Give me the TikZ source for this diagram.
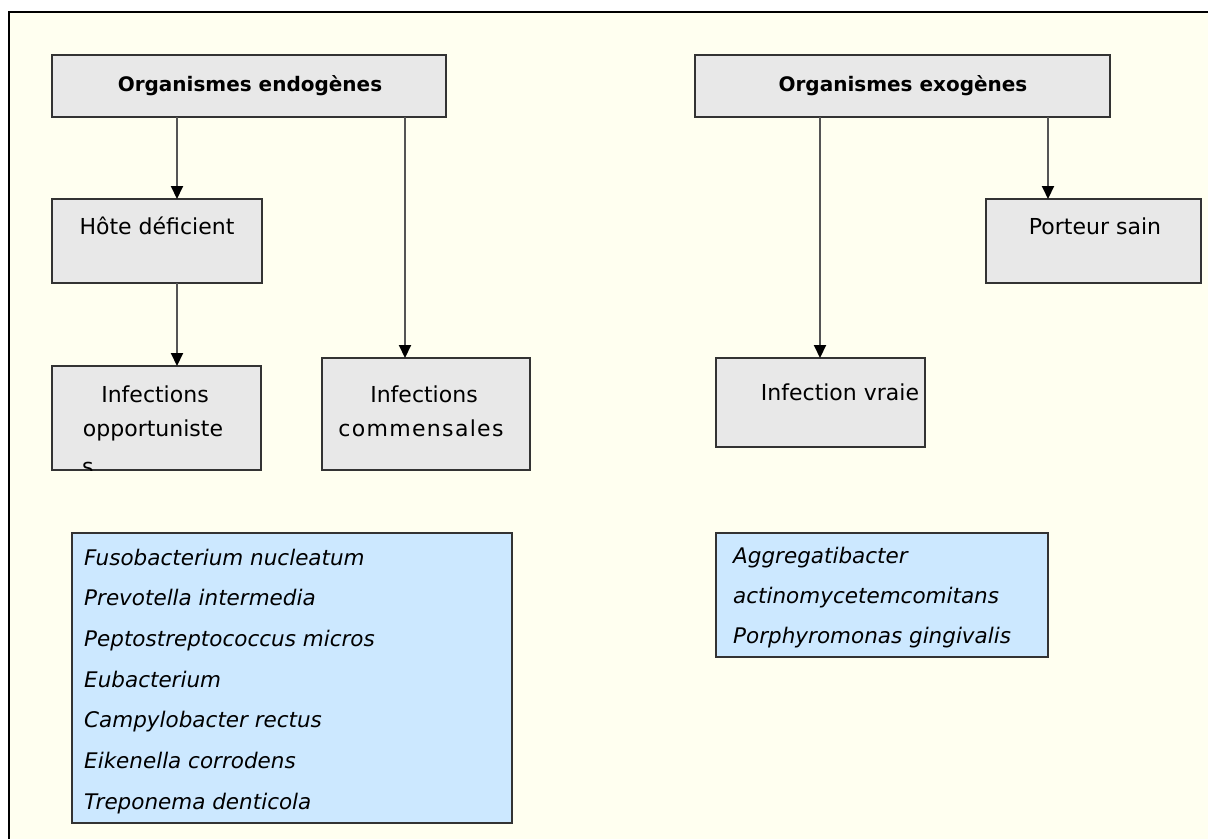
\documentclass[tikz,border=0pt]{standalone}
\usepackage{fontspec}
\setmainfont{DejaVu Sans}
\usetikzlibrary{arrows.meta}
\definecolor{paper}{HTML}{FFFFF0}
\definecolor{boxgray}{HTML}{E8E8E8}
\definecolor{boxblue}{HTML}{CCE8FF}
\definecolor{edge}{HTML}{333333}
\definecolor{wire}{HTML}{555555}

\begin{document}
\begin{tikzpicture}[x=1pt,y=-1pt,
  box/.style={draw=edge, line width=1.8pt, fill=boxgray, inner sep=0pt, outer sep=0pt, anchor=north west},
  listbox/.style={box, fill=boxblue},
  head/.style={font=\bfseries\fontsize{20}{24}\selectfont, anchor=base, inner sep=0pt},
  boxtext/.style={font=\fontsize{22}{26}\selectfont, anchor=base, inner sep=0pt},
  species/.style={font=\itshape\fontsize{21.5}{26}\selectfont, anchor=base west, inner sep=0pt},
  link/.style={draw=wire, line width=2pt, -{Triangle[length=13pt,width=12pt,color=black]}}]

\useasboundingbox (0,0) rectangle (1208,839);

% page frame
\fill[paper] (9,12) rectangle (1208,839);
\draw[black, line width=1.8pt] (9,839) -- (9,12) -- (1208,12);

% boxes
\node[box, minimum width=394pt, minimum height=62pt] (endo) at (52,55) {};
\node[box, minimum width=415pt, minimum height=62pt] (exo) at (695,55) {};
\node[box, minimum width=210pt, minimum height=84pt] (hote) at (52,199) {};
\node[box, minimum width=215pt, minimum height=84pt] (porteur) at (986,199) {};
\node[box, minimum width=209pt, minimum height=104pt] (opp) at (52,366) {};
\node[box, minimum width=208pt, minimum height=112pt] (comm) at (322,358) {};
\node[box, minimum width=209pt, minimum height=89pt] (vraie) at (716,358) {};
\node[listbox, minimum width=440pt, minimum height=290pt] (listL) at (72,533) {};
\node[listbox, minimum width=332pt, minimum height=124pt] (listR) at (716,533) {};

% box texts
\node[head] (endoT) at (250,91) {Organismes endogènes};
\node[head] (exoT) at (903,91.5) {Organismes exogènes};
\node[boxtext] (hoteT) at (157,234) {Hôte déficient};
\node[boxtext] (porteurT) at (1095,234) {Porteur sain};
\node[boxtext] (opp1) at (155,402) {Infections};
\node[boxtext] (opp2) at (153,436) {opportuniste};
\begin{scope}
  \clip (opp.north west) rectangle (opp.south east);
  \node[boxtext, anchor=base west] (opp3) at (82,474) {s};
\end{scope}
\node[boxtext] (comm1) at (424,402) {Infections};
\node[boxtext] (comm2) at (421,436) {\addfontfeature{LetterSpace=6}commensales};
\node[boxtext] (vraieT) at (840,400) {Infection vraie};

% species lists
\node[species] (s1) at (84,565) {Fusobacterium nucleatum};
\node[species] (s2) at (84,605.7) {Prevotella intermedia};
\node[species] (s3) at (84,646.4) {Peptostreptococcus micros};
\node[species] (s4) at (84,687.1) {Eubacterium};
\node[species] (s5) at (84,727.8) {Campylobacter rectus};
\node[species] (s6) at (84,768.5) {Eikenella corrodens};
\node[species] (s7) at (84,809.2) {Treponema denticola};

\node[species] (r1) at (733,563.5) {Aggregatibacter};
\node[species] (r2) at (733,603.5) {actinomycetemcomitans};
\node[species] (r3) at (733,643.5) {Porphyromonas gingivalis};

% connectors
\draw[link] ([xshift=125pt]endo.south west) -- ([xshift=125pt]hote.north west);
\draw[link] ([xshift=353pt]endo.south west) -- ([xshift=83pt]comm.north west);
\draw[link] ([xshift=125pt]hote.south west) -- ([xshift=125pt]opp.north west);
\draw[link] ([xshift=125pt]exo.south west) -- ([xshift=104pt]vraie.north west);
\draw[link] ([xshift=353pt]exo.south west) -- ([xshift=62pt]porteur.north west);
\end{tikzpicture}
\end{document}
